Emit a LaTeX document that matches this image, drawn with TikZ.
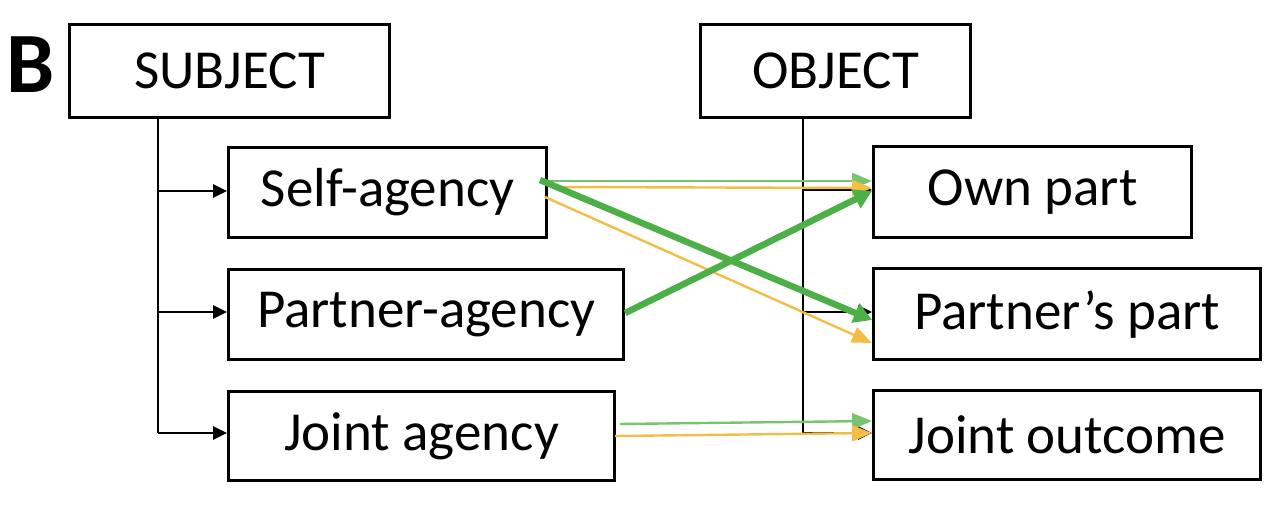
\documentclass[tikz,border=0pt]{standalone}
\usepackage{fontspec}
\setmainfont{Carlito}
\usetikzlibrary{arrows.meta}
\definecolor{thickgreen}{RGB}{76,175,72}
\definecolor{thingreen}{RGB}{120,196,110}
\definecolor{thinyellow}{RGB}{244,190,70}
\tikzset{
  box/.style={draw=black, line width=3.2pt, fill=white, inner sep=0pt, anchor=north west,
    font=\fontsize{55}{66}\selectfont},
  tree/.style={draw=black, line width=2.8pt, -{Triangle[length=14pt,width=13pt]}},
  treeline/.style={draw=black, line width=2.8pt},
  thickarr/.style={draw=thickgreen, line width=6.5pt, -{Triangle[length=18pt,width=20pt]}},
  thinG/.style={draw=thingreen, line width=2.4pt, -{Triangle[length=20pt,width=16pt]}},
  thinY/.style={draw=thinyellow, line width=2.4pt, -{Triangle[length=20pt,width=16pt]}},
}
\begin{document}
\begin{tikzpicture}[x=1pt,y=-1pt]
\useasboundingbox (0,0) rectangle (1278,504);
\node[anchor=base west, inner sep=0pt, font=\fontsize{86}{100}\bfseries\selectfont] (B) at (6,92) {B};
\node[box, minimum width=320pt, minimum height=93pt] (subj) at (68,23) {SUBJECT};
\node[box, minimum width=270pt, minimum height=93pt] (obj) at (699,23) {OBJECT};
\node[box, minimum width=318pt, minimum height=90pt] (self) at (227,146) {Self-agency};
\node[box, minimum width=395pt, minimum height=90pt] (partner) at (227,268) {Partner-agency};
\node[box, minimum width=386pt, minimum height=89pt] (joint) at (227,390) {Joint agency};
% object-side tree (drawn under object boxes)
\coordinate (ov) at (803,116);
\coordinate (o1) at (803,190);
\coordinate (o2) at (803,312);
\coordinate (o3) at (803,433);
\draw[treeline] (ov) -- (o3);
\node[box, minimum width=318pt, minimum height=91pt] (own) at (872,145) {Own part};
\node[box, minimum width=387pt, minimum height=91pt] (ppart) at (872,267) {Partner’s part};
\node[box, minimum width=387pt, minimum height=89pt] (jout) at (872,389) {Joint outcome};
\draw[tree] (o1) -- (own.west |- o1);
\draw[tree] (o2) -- (ppart.west |- o2);
\draw[tree] (o3) -- (jout.west |- o3);
% subject-side tree
\coordinate (sv) at (158,116);
\coordinate (s1) at (158,191);
\coordinate (s2) at (158,312);
\coordinate (s3) at (158,433);
\draw[treeline] (sv) -- (s3);
\draw[tree] (s1) -- (self.west |- s1);
\draw[tree] (s2) -- (partner.west |- s2);
\draw[tree] (s3) -- (joint.west |- s3);
% coloured arrows
\coordinate (sa1) at (545,181);
\coordinate (sa2) at (552,187);
\coordinate (sa3) at (545,197);
\draw[thinG] (sa1) -- (own.west |- 0,181);
\draw[thinY] (sa2) -- (own.west |- 0,188);
\draw[thinY] (sa3) -- (ppart.west |- 0,343);
\draw[thickarr] (540,180) -- (ppart.west |- 0,320);
\draw[thickarr] (partner.east |- 0,313) -- (own.west |- 0,191);
\draw[thinG] (620,424) -- (jout.west |- 0,421);
\draw[thinY] (615,436) -- (jout.west |- 0,433);
\end{tikzpicture}
\end{document}
